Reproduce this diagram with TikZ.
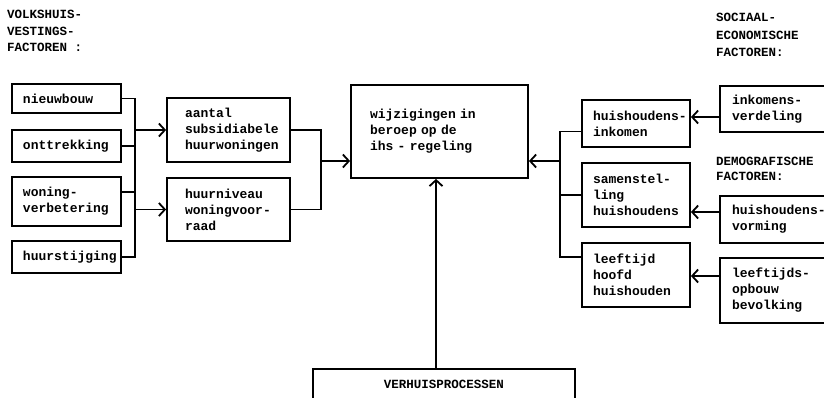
\documentclass[tikz,border=0pt]{standalone}
\usepackage{fontspec}
\newfontfamily\monof{Liberation Mono}
\usetikzlibrary{arrows.meta}
\hyphenpenalty=10000
\exhyphenpenalty=10000
\hfuzz=50pt
\hbadness=10000
\protected\def\bxfont{\monof\bfseries\fontsize{13}{16}\selectfont\fontdimen2\font=7.8pt\fontdimen3\font=0pt\fontdimen4\font=0pt\relax}
\protected\def\lbfont#1{\monof\bfseries\fontsize{12.5}{#1}\selectfont\fontdimen2\font=7.5pt\relax}
\tikzset{
  bx/.style={draw, line width=1.8pt, align=left, inner ysep=0pt, font=\bxfont},
  lbl/.style={align=left, inner sep=0pt, anchor=north west, font=\lbfont{16.5}},
  ln/.style={line width=1.8pt},
  arr/.style={line width=1.8pt, -{Straight Barb[length=6pt,width=13pt,line width=1.8pt]}},
}
\begin{document}
\begin{tikzpicture}[x=1pt,y=-1pt]
\useasboundingbox (0,0) rectangle (824,397);
% left column
\node[bx, minimum height=29pt, text width=87pt, inner xsep=11pt] (nb) at (66.5,98.5) {nieuwbouw};
\node[bx, minimum height=32pt, text width=87pt, inner xsep=11pt] (on) at (66.5,146) {onttrekking};
\node[bx, minimum height=49pt, text width=87pt, inner xsep=11pt] (wv) at (66.5,201.5) {woning-\\verbetering};
\node[bx, minimum height=32pt, text width=87pt, inner xsep=11pt] (hs) at (66.5,257) {huurstijging};
% second column
\node[bx, minimum height=64pt, text width=87pt, inner xsep=18pt] (aa) at (228.5,130) {aantal\\subsidiabele\\huurwoningen};
\node[bx, minimum height=63pt, text width=87pt, inner xsep=18pt] (hn) at (228.5,209.5) {huurniveau\\woningvoor-\\raad};
% central
\node[bx, minimum height=93pt, text width=139pt, inner xsep=19pt] (cw) at (439.5,131.5) {wijzigingen in\\beroep op de\\ihs - regeling};
% right inner column
\node[bx, minimum height=47pt, text width=86pt, inner xsep=11pt] (hi) at (636,123.5) {huishoudens-\\inkomen};
\node[bx, minimum height=64pt, text width=86pt, inner xsep=11pt] (sh) at (636,195) {samenstel-\\ling\\huishoudens};
\node[bx, minimum height=64pt, text width=86pt, inner xsep=11pt] (lh) at (636,275) {leeftijd\\hoofd\\huishouden};
% right outer column
\node[bx, minimum height=46pt, text width=91pt, inner xsep=12pt] (iv) at (777.5,109) {inkomens-\\verdeling};
\node[bx, minimum height=47pt, text width=91pt, inner xsep=12pt] (hv) at (777.5,219.5) {huishoudens-\\vorming};
\node[bx, minimum height=65pt, text width=91pt, inner xsep=12pt] (lo) at (777.5,290.5) {leeftijds-\\opbouw\\bevolking};
% bottom
\node[draw, line width=1.8pt, minimum width=262pt, minimum height=30pt, inner sep=0pt,
  font=\lbfont{15}] (vp) at (444,384) {VERHUISPROCESSEN};
% labels
\node[lbl] (l1) at (7,10) {VOLKSHUIS-\\VESTINGS-\\FACTOREN :};
\node[lbl, font=\lbfont{17.5}] (l2) at (716,13) {SOCIAAL-\\ECONOMISCHE\\FACTOREN:};
\node[lbl, font=\lbfont{14.5}] (l3) at (716,157) {DEMOGRAFISCHE\\FACTOREN:};
% left connectors
\coordinate (lt) at (135,98.5);
\draw[ln] (nb.east) -- (lt) -- (lt |- hs.east) -- (hs.east);
\draw[ln] (on.east) -- (on.east -| lt);
\coordinate (wvc) at ([yshift=9.5pt]wv.east);
\draw[ln] (wvc) -- (wvc -| lt);
\draw[arr] (aa.west -| lt) -- (aa.west);
\draw[arr] (hn.west -| lt) -- (hn.west);
% middle connectors
\coordinate (mx) at (321,130);
\draw[ln] (aa.east) -- (mx) |- (hn.east);
\coordinate (cwl) at ([yshift=-29.5pt]cw.west);
\draw[arr] (cwl -| mx) -- (cwl);
% right connectors
\coordinate (hic) at ([yshift=-8pt]hi.west);
\coordinate (rx) at (560,131.5);
\coordinate (lhc) at ([yshift=18pt]lh.west);
\draw[ln] (hic) -- (rx) -- (rx |- lhc) -- (lhc);
\draw[ln] (sh.west) -- (sh.west -| rx);
\coordinate (cwr) at ([yshift=-29.5pt]cw.east);
\draw[arr] (cwr -| rx) -- (cwr);
\coordinate (ivc) at ([yshift=-8pt]iv.west);
\draw[arr] (ivc) -- (ivc -| hi.east);
\coordinate (hvc) at ([yshift=7.5pt]hv.west);
\draw[arr] (hvc) -- (hvc -| sh.east);
\coordinate (loc) at ([yshift=14.5pt]lo.west);
\draw[arr] (loc) -- (loc -| lh.east);
% bottom connector
\coordinate (vt) at ([xshift=-8pt]vp.north);
\draw[arr] (vt) -- (vt |- cw.south);
\end{tikzpicture}
\end{document}
